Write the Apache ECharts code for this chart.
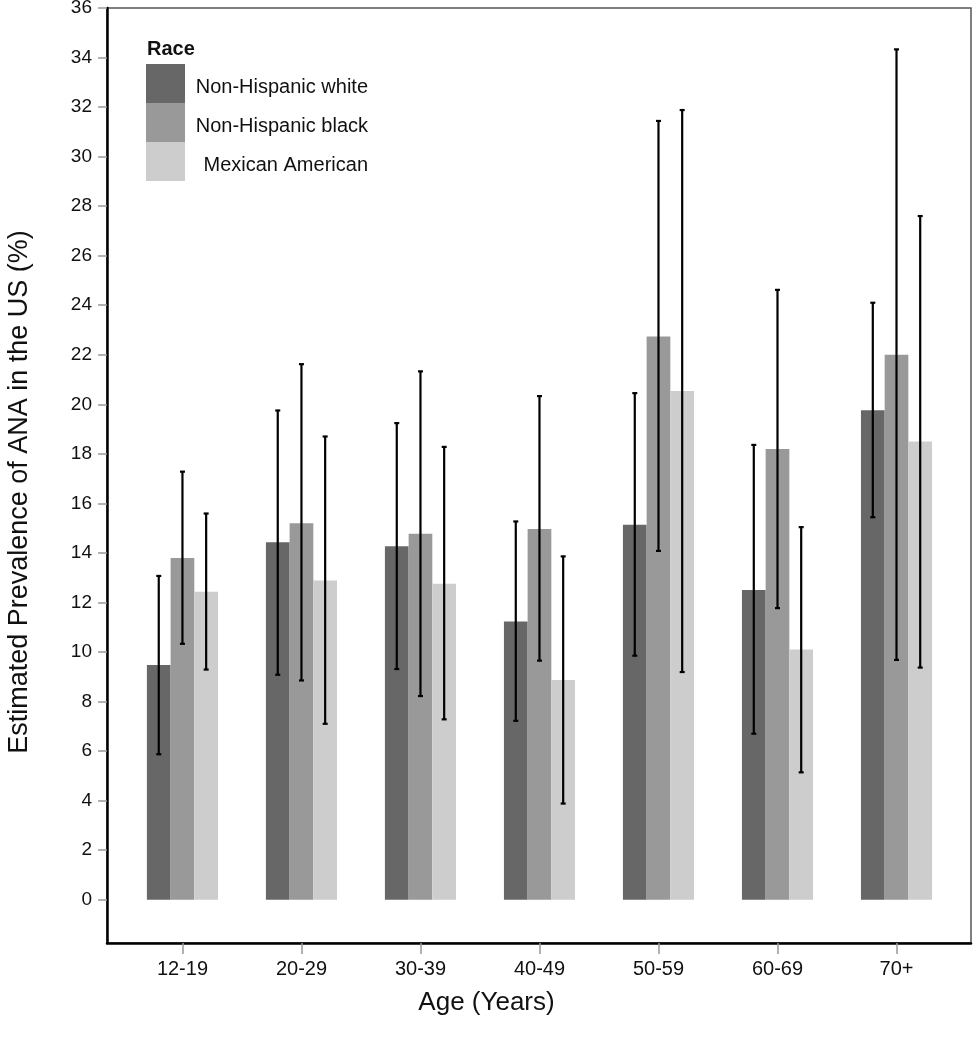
<!DOCTYPE html>
<html>
<head>
<meta charset="utf-8">
<script src="https://cdn.jsdelivr.net/npm/echarts@6/dist/echarts.min.js"></script>
<style>html,body{margin:0;padding:0;background:#fff;}#chart{width:973px;height:1050px;}</style>
</head>
<body>
<div id="chart"></div>
<script>
const categories = ['12-19', '20-29', '30-39', '40-49', '50-59', '60-69', '70+'];
const seriesNames = ['Non-Hispanic white', 'Non-Hispanic black', 'Mexican American'];
const white     = [9.47, 14.43, 14.27, 11.23, 15.14, 12.50, 19.76];
const whiteLow  = [5.87, 9.08, 9.31, 7.22, 9.85, 6.70, 15.44];
const whiteHigh = [13.07, 19.75, 19.24, 15.27, 20.45, 18.36, 24.10];
const black     = [13.79, 15.20, 14.77, 14.97, 22.74, 18.19, 22.00];
const blackLow  = [10.33, 8.85, 8.22, 9.65, 14.08, 11.77, 9.68];
const blackHigh = [17.28, 21.62, 21.33, 20.33, 31.44, 24.62, 34.33];
const mex       = [12.43, 12.89, 12.75, 8.87, 20.54, 10.10, 18.50];
const mexLow    = [9.29, 7.10, 7.28, 3.88, 9.19, 5.14, 9.37];
const mexHigh   = [15.59, 18.70, 18.28, 13.86, 31.88, 15.04, 27.60];
const yTicks = [0, 2, 4, 6, 8, 10, 12, 14, 16, 18, 20, 22, 24, 26, 28, 30, 32, 34, 36];

const colors = ['#676767', '#999999', '#cdcdcd'];
const BAR_W = 23.7;
const FONT = 'Liberation Sans, Arial, Helvetica, sans-serif';

const values = [white, black, mex];
const lows = [whiteLow, blackLow, mexLow];
const highs = [whiteHigh, blackHigh, mexHigh];
const catIdx = categories.map((c, i) => i);

const barSeries = seriesNames.map((name, k) => ({
  name: name,
  type: 'bar',
  barWidth: BAR_W,
  barGap: '0%',
  itemStyle: { color: colors[k] },
  emphasis: { disabled: true },
  data: values[k].map((v, i) => [i, v]),
  z: 2
}));

const errSeries = seriesNames.map((name, k) => ({
  name: name + ' CI',
  type: 'custom',
  z: 5,
  data: catIdx.map(i => [i, lows[k][i], highs[k][i]]),
  renderItem: function (params, api) {
    const off = (k - 1) * BAR_W;
    const lo = api.coord([api.value(0), api.value(1)]);
    const hi = api.coord([api.value(0), api.value(2)]);
    const x = lo[0] + off;
    const cap = 2.5;
    const st = { stroke: '#000', lineWidth: 2.2 };
    return {
      type: 'group',
      children: [
        { type: 'line', shape: { x1: x, y1: lo[1], x2: x, y2: hi[1] }, style: st },
        { type: 'line', shape: { x1: x - cap, y1: lo[1], x2: x + cap, y2: lo[1] }, style: st },
        { type: 'line', shape: { x1: x - cap, y1: hi[1], x2: x + cap, y2: hi[1] }, style: st }
      ]
    };
  }
}));

const chart = echarts.init(document.getElementById('chart'), null, { renderer: 'canvas' });
chart.setOption({
  animation: false,
  backgroundColor: '#fff',
  grid: {
    left: 107, right: 2, top: 8, bottom: 107,
    show: true, borderColor: '#555', borderWidth: 1.5,
    containLabel: false, outerBoundsMode: 'none'
  },
  legend: {
    orient: 'vertical',
    left: 146, top: 64,
    padding: 0,
    itemWidth: 39, itemHeight: 39, itemGap: 0,
    icon: 'rect',
    data: seriesNames,
    selectedMode: false,
    formatter: function (name) { return '{t|' + name + '}'; },
    textStyle: {
      rich: { t: { width: 178, align: 'right', fontSize: 20, fontFamily: FONT, color: '#111', padding: [7, 0, 0, 0] } }
    }
  },
  graphic: [
    { type: 'text', left: 147, top: 39, style: { text: 'Race', font: 'bold 20px ' + FONT, fill: '#111' } },
    { type: 'text', x: 486.5, y: 1003, style: { text: 'Age (Years)', font: '26px ' + FONT, fill: '#111', align: 'center', verticalAlign: 'middle' } },
    { type: 'text', x: 20, y: 492, rotation: Math.PI / 2, style: { text: 'Estimated Prevalence of ANA in the US (%)', font: '27px ' + FONT, fill: '#111', align: 'center', verticalAlign: 'middle' } }
  ],
  xAxis: {
    type: 'value',
    min: -0.634, max: 6.626,
    splitLine: { show: false },
    axisLine: { show: true, onZero: false, lineStyle: { color: '#000', width: 2.5 } },
    axisTick: { show: true, length: 11, customValues: catIdx, lineStyle: { color: '#999', width: 1.5 } },
    axisLabel: {
      customValues: catIdx,
      margin: 16,
      fontSize: 20, fontFamily: FONT, color: '#111',
      formatter: function (v) { return categories[Math.round(v)]; }
    }
  },
  yAxis: {
    type: 'value',
    min: -1.75, max: 36,
    splitLine: { show: false },
    axisLine: { show: true, onZero: false, lineStyle: { color: '#000', width: 2.5 } },
    axisTick: { show: true, length: 9, customValues: yTicks, lineStyle: { color: '#999', width: 1.5 } },
    axisLabel: {
      customValues: yTicks,
      margin: 15,
      fontSize: 19, fontFamily: FONT, color: '#111'
    }
  },
  series: barSeries.concat(errSeries)
});
</script>
</body>
</html>
